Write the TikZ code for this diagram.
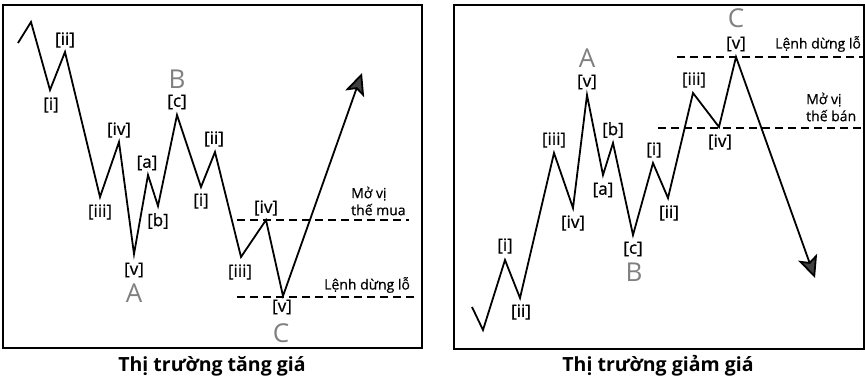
\documentclass[tikz,border=0pt]{standalone}
\usepackage{fontspec}
\setmainfont{Open Sans}
\usetikzlibrary{arrows.meta, positioning, calc}

\begin{document}
\begin{tikzpicture}[
        x=1pt, y=-1pt,
        font=\fontsize{14}{16}\selectfont,
        panel_box/.style={
            rectangle,
            draw=black,
            line width=1.6pt,
            inner sep=0pt
        },
        wave_line/.style={
            line width=1.8pt,
            line join=miter,
            -{Stealth[length=22pt, width=20pt, inset=5pt, fill=black!75]}
        },
        wave_lbl/.style={
            inner sep=0pt,
            font=\fontsize{17}{18}\selectfont\addfontfeatures{FakeBold=0.8}
        },
        big_lbl/.style={
            inner sep=0pt,
            text=black!50,
            font=\fontsize{26}{28}\selectfont
        },
        dash_line/.style={
            line width=1.6pt,
            dash pattern=on 8pt off 5pt
        },
        note_lbl/.style={
            inner sep=0pt,
            anchor=west,
            align=left,
            font=\fontsize{14}{17}\selectfont\addfontfeatures{FakeBold=0.5}
        },
        title_lbl/.style={
            inner sep=0pt,
            font=\bfseries\fontsize{19.5}{22}\selectfont
        }
    ]
    \useasboundingbox (0,0) rectangle (865,387);

    % Panels
    \node[panel_box, minimum width=419pt, minimum height=343pt] (bullbox) at (212.5,176.5) {};
    \node[panel_box, minimum width=410pt, minimum height=344pt] (bearbox) at (659,177) {};

    \node[title_lbl] (bulltitle) at (212,366) {Thị trường tăng giá};
    \node[title_lbl] (beartitle) at (658,366) {Thị trường giảm giá};

    % Bull market wave points
    \coordinate (u0) at (18,43);
    \coordinate (u1) at (31,22);
    \coordinate (u2) at (50,90);
    \coordinate (u3) at (65,52);
    \coordinate (u4) at (100,197);
    \coordinate (u5) at (119,142);
    \coordinate (uA) at (134,254);
    \coordinate (ua) at (148,175);
    \coordinate (ub) at (158,206);
    \coordinate (uB) at (177,115);
    \coordinate (u6) at (201,187);
    \coordinate (u7) at (215,152);
    \coordinate (u8) at (241,257);
    \coordinate (u9) at (266,220);
    \coordinate (uC) at (283,296);
    \coordinate (uend) at (362,73);

    \draw[wave_line] (u0) -- (u1) -- (u2) -- (u3) -- (u4) -- (u5) -- (uA) -- (ua) -- (ub)
        -- (uB) -- (u6) -- (u7) -- (u8) -- (u9) -- (uC) -- (uend);

    \node[wave_lbl] (ul2) at (51,105) {[i]};
    \node[wave_lbl] (ul3) at (65,40) {[ii]};
    \node[wave_lbl] (ul4) at (100,212) {[iii]};
    \node[wave_lbl] (ul5) at (119,130) {[iv]};
    \node[wave_lbl] (ulA) at (134,270) {[v]};
    \node[big_lbl] (uAA) at (134,293) {A};
    \node[wave_lbl] (ula) at (147,163) {[a]};
    \node[wave_lbl] (ulb) at (158,221) {[b]};
    \node[wave_lbl] (ulB) at (177,102) {[c]};
    \node[big_lbl] (uBB) at (177,79) {B};
    \node[wave_lbl] (ul6) at (201,201) {[i]};
    \node[wave_lbl] (ul7) at (214,139) {[ii]};
    \node[wave_lbl] (ul8) at (240,272) {[iii]};
    \node[wave_lbl] (ul9) at (266,208) {[iv]};
    \node[wave_lbl] (ulC) at (282,307) {[v]};
    \node[big_lbl] (uCC) at (281,333) {C};

    % Bull market levels
    \coordinate (ubuyL) at (237,220);
    \coordinate (ubuyR) at (409,220);
    \coordinate (ustopL) at (237,297);
    \coordinate (ustopR) at (414,297);
    \draw[dash_line] (ubuyL) -- (ubuyR);
    \draw[dash_line] (ustopL) -- (ustopR);
    \node[note_lbl] (ubuy) at (351,201) {Mở vị\\thế mua};
    \node[note_lbl] (ustop) at (324,285) {Lệnh dừng lỗ};

    % Bear market wave points
    \coordinate (d0) at (472,307);
    \coordinate (d1) at (483,330);
    \coordinate (d2) at (505,260);
    \coordinate (d3) at (520,298);
    \coordinate (d4) at (554,153);
    \coordinate (d5) at (573,208);
    \coordinate (dA) at (587,95);
    \coordinate (da) at (603,175);
    \coordinate (db) at (613,143);
    \coordinate (dB) at (633,235);
    \coordinate (d6) at (653,163);
    \coordinate (d7) at (668,198);
    \coordinate (d8) at (693,93);
    \coordinate (d9) at (719,127);
    \coordinate (dC) at (736,57);
    \coordinate (dend) at (815,278);

    \draw[wave_line] (d0) -- (d1) -- (d2) -- (d3) -- (d4) -- (d5) -- (dA) -- (da) -- (db)
        -- (dB) -- (d6) -- (d7) -- (d8) -- (d9) -- (dC) -- (dend);

    \node[wave_lbl] (dl2) at (505,246) {[i]};
    \node[wave_lbl] (dl3) at (521,312) {[ii]};
    \node[wave_lbl] (dl4) at (554,140) {[iii]};
    \node[wave_lbl] (dl5) at (573,223) {[iv]};
    \node[wave_lbl] (dlA) at (587,82) {[v]};
    \node[big_lbl] (dAA) at (587,58) {A};
    \node[wave_lbl] (dla) at (603,190) {[a]};
    \node[wave_lbl] (dlb) at (613,130) {[b]};
    \node[wave_lbl] (dlB) at (633,249) {[c]};
    \node[big_lbl] (dBB) at (634,272) {B};
    \node[wave_lbl] (dl6) at (654,150) {[i]};
    \node[wave_lbl] (dl7) at (669,213) {[ii]};
    \node[wave_lbl] (dl8) at (694,80) {[iii]};
    \node[wave_lbl] (dl9) at (720,142) {[iv]};
    \node[wave_lbl] (dlC) at (736,44) {[v]};
    \node[big_lbl] (dCC) at (736,18) {C};

    % Bear market levels
    \coordinate (dstopL) at (677,57);
    \coordinate (dstopR) at (864,57);
    \coordinate (dsellL) at (658,128);
    \coordinate (dsellR) at (864,128);
    \draw[dash_line] (dstopL) -- (dstopR);
    \draw[dash_line] (dsellL) -- (dsellR);
    \node[note_lbl] (dstop) at (775,44) {Lệnh dừng lỗ};
    \node[note_lbl] (dsell) at (806,107) {Mở vị\\thế bán};

\end{tikzpicture}
\end{document}
